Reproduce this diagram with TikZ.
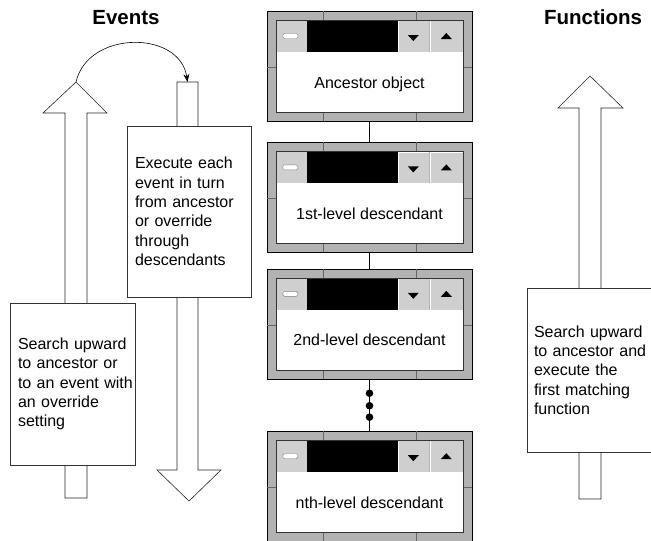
\documentclass[tikz,border=0pt]{standalone}
\usepackage{fontspec}
\setmainfont{Liberation Sans}
\usetikzlibrary{positioning, arrows.meta, calc}

\newcommand{\bodyfont}{\fontsize{16}{19.3}\selectfont}

% title bar, buttons and client area of one window node
\newcommand{\winbar}[1]{%
  \begin{scope}[shift={(#1.north west)}]
    \draw[black!60] (56,0) -- (56,-9) (149,0) -- (149,-9);
    \draw[black!60] (56,-110) -- (56,-101) (149,-110) -- (149,-101);
    \draw[black!60] (0,-56) -- (9,-56) (196,-56) -- (205,-56);
    \fill[white] (9,-41) rectangle (196,-101);
    \fill[btn] (9,-9) rectangle (40,-41);
    \draw[white, fill=white, rounded corners=1.5pt, draw=gray] (16,-22.5) rectangle (31,-27.5);
    \fill[black] (40,-9) rectangle (131,-41);
    \fill[btn] (131,-9) rectangle (162,-41);
    \fill[btn] (163,-9) rectangle (196,-41);
    \draw[white, line width=1.2pt] (131.6,-41) |- (162,-9.6);
    \draw[white, line width=1.2pt] (163.6,-41) |- (196,-9.6);
    \fill[black] (141,-24) -- (152,-24) -- (146.5,-30) -- cycle;
    \fill[black] (174,-28) -- (185,-28) -- (179.5,-22) -- cycle;
    \draw[black!80, line width=0.5pt] (9,-9) rectangle (196,-101);
  \end{scope}
}

\begin{document}
\begin{tikzpicture}[x=1pt, y=1pt,
    win/.style={draw=black, fill=gray!60, minimum width=205pt, minimum height=110pt,
                inner sep=0pt, anchor=north},
    btn/.style={gray!38},
    lbl/.style={font=\bodyfont, anchor=base},
    note/.style={draw=black!80, fill=white, align=left, inner ysep=0pt, font=\bodyfont},
    blk/.style={draw=black!85, fill=white, line width=0.6pt},
    head/.style={font=\fontsize{20.5}{24}\selectfont\bfseries, anchor=base},
  ]
    \useasboundingbox (0,0) rectangle (651,-541);

    \node[head] (evtitle) at (126,-24) {Events};
    \node[head] (fntitle) at (593,-24) {Functions};

    % block arrows
    \draw[blk] (65,-498) -- (65,-113) -- (43,-113) -- (76,-82) -- (107,-113)
        -- (87,-113) -- (87,-498) -- cycle;
    \coordinate (evup) at (76,-82);
    \draw[blk] (177,-82) -- (177,-470) -- (157,-470) -- (189,-501) -- (221,-470)
        -- (198,-470) -- (198,-82) -- cycle;
    \coordinate (evdown) at (187.5,-82);
    \draw[blk] (579,-499) -- (579,-108) -- (558,-108) -- (590,-76) -- (623,-108)
        -- (601,-108) -- (601,-499) -- cycle;

    \draw[line width=0.6pt, -{Stealth[length=8pt, width=6pt]}]
        (evup) .. controls (88,-30) and (180,-30) .. (evdown);

    \node[note, text width=109pt, inner xsep=8pt, minimum height=162pt] (evsearch)
        at (72.5,-384) {Search upward\\to ancestor or\\\mbox{to an event with}\\an override\\setting};
    \node[note, text width=108pt, inner xsep=8pt, minimum height=171pt] (evexec)
        at (189,-211.5) {Execute each\\event in turn\\from ancestor\\or override\\through\\descendants};
    \node[note, text width=124pt, inner xsep=7pt, minimum height=164pt] (fnsearch)
        at (596,-370) {Search upward\\to ancestor and\\execute the\\first matching\\function};

    % windows
    \node[win] (w1) at (369.5,-11) {};
    \node[win, below=21pt of w1] (w2) {};
    \node[win, below=16pt of w2] (w3) {};
    \node[win, below=52pt of w3] (w4) {};
    \foreach \w in {w1,w2,w3,w4} {\winbar{\w}}
    \foreach \w/\t in {w1/Ancestor object, w2/1st-level descendant,
                       w3/2nd-level descendant, w4/nth-level descendant}
      \node[lbl] (\w-txt) at ([yshift=-77pt]\w.north) {\t};

    \draw (w1) -- (w2);
    \draw (w2) -- (w3);
    \draw (w3) -- (w4);
    \foreach \p in {0.27,0.51,0.73}
      \fill ($(w3.south)!\p!(w4.north)$) circle (3.8pt);
  \end{tikzpicture}
\end{document}
